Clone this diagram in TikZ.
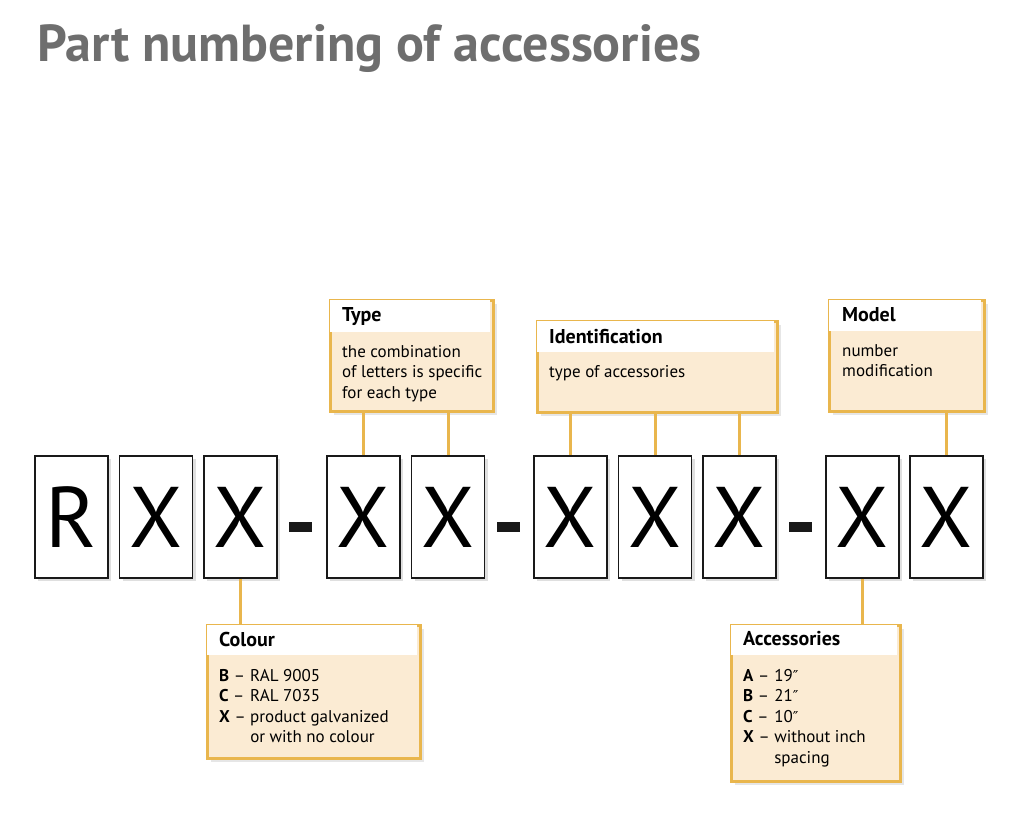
\documentclass[tikz,border=0pt]{standalone}
\usepackage{fontspec}
\setmainfont{PT Sans}
\newfontfamily\inchfont{DejaVu Sans}
\usetikzlibrary{shadows,positioning}
\definecolor{frameorange}{HTML}{E9B64D}
\definecolor{bodybeige}{HTML}{FBEBD3}
\definecolor{titlegray}{HTML}{6E6E6E}
\newcommand{\inch}{{\inchfont\fontsize{15}{21}\selectfont ″}}
\tikzset{
  letterbox/.style={draw=black!90, line width=1.6pt, fill=white, minimum width=73pt, minimum height=122pt, inner sep=0pt,
    font=\fontsize{86}{86}\selectfont, drop shadow={shadow xshift=3pt, shadow yshift=-3pt, opacity=0.25}},
  callbox/.style={draw=frameorange, line width=3pt, fill=bodybeige, inner sep=0pt, anchor=north west,
    drop shadow={shadow xshift=4pt, shadow yshift=-4pt, opacity=0.2}},
  headtext/.style={anchor=base west, inner sep=0pt, font=\fontsize{20}{22}\selectfont\bfseries},
  bodytext/.style={anchor=base west, inner sep=0pt, font=\fontsize{17}{20.5}\selectfont},
  link/.style={draw=frameorange, line width=3pt},
  dashbar/.style={fill=black!90, minimum width=23pt, minimum height=10pt, inner sep=0pt}
}
\begin{document}
\begin{tikzpicture}[x=1pt,y=-1pt]
    \useasboundingbox (0,0) rectangle (1024,822);

    \node[anchor=base west, inner sep=0pt, text=titlegray, font=\fontsize{52}{56}\selectfont\bfseries] (title) at (37,61) {Part numbering of accessories};

    % letter boxes
    \foreach \i/\x/\c in {1/71.5/R, 2/156/X, 3/240.5/X, 4/363.5/X, 5/448/X, 6/570.5/X, 7/655/X, 8/739.5/X, 9/862.5/X, 10/946.5/X}
        \node[letterbox] (l\i) at (\x,517) {\c};
    \node[dashbar] (d1) at (300.5,527) {};
    \node[dashbar] (d2) at (508.5,527) {};
    \node[dashbar] (d3) at (800.5,527) {};

    % Type
    \node[callbox, minimum width=163pt, minimum height=111pt] (type) at (328.5,298.5) {};
    \fill[white] (330,300) rectangle (490,332);
    \node[headtext] (typehead) at (342,321) {Type};
    \node[bodytext] (typebody) at (342,357) {\begin{tabular}[t]{@{}l@{}}the combination\\ of letters is specific\\ for each type\end{tabular}};

    % Identification
    \node[callbox, minimum width=240pt, minimum height=91pt] (ident) at (535.5,319.5) {};
    \fill[white] (537,321) rectangle (774,352);
    \node[headtext] (identhead) at (549,343) {Identification};
    \node[bodytext] (identbody) at (549,377) {type of accessories};

    % Model
    \node[callbox, minimum width=155pt, minimum height=111pt] (model) at (827.5,298.5) {};
    \fill[white] (829,300) rectangle (981,331);
    \node[headtext] (modelhead) at (842,321) {Model};
    \node[bodytext] (modelbody) at (842,356) {\begin{tabular}[t]{@{}l@{}}number\\ modification\end{tabular}};

    % Colour
    \node[callbox, minimum width=213pt, minimum height=133pt] (colour) at (205.5,623.5) {};
    \fill[white] (207,625) rectangle (417,655);
    \node[headtext] (colourhead) at (219,646) {Colour};
    \node[bodytext] (colourbody) at (219,681) {\begin{tabular}[t]{@{}l@{ }l@{}}\textbf{B} –&RAL 9005\\ \textbf{C} –&RAL 7035\\ \textbf{X} –&product galvanized\\ &or with no colour\end{tabular}};

    % Accessories
    \node[callbox, minimum width=169pt, minimum height=156pt] (access) at (729.5,623.5) {};
    \fill[white] (731,625) rectangle (897,655);
    \node[headtext] (accesshead) at (743,645) {Accessories};
    \node[bodytext] (accessbody) at (743,681) {\begin{tabular}[t]{@{}l@{ }l@{}}\textbf{A} –&19\inch\\ \textbf{B} –&21\inch\\ \textbf{C} –&10\inch\\ \textbf{X} –&without inch\\ &spacing\end{tabular}};

    % connectors
    \draw[link] (l4.north) -- (l4.north |- type.south);
    \draw[link] (l5.north) -- (l5.north |- type.south);
    \draw[link] (l6.north) -- (l6.north |- ident.south);
    \draw[link] (l7.north) -- (l7.north |- ident.south);
    \draw[link] (l8.north) -- (l8.north |- ident.south);
    \draw[link] (l10.north) -- (l10.north |- model.south);
    \draw[link] (l3.south) -- (l3.south |- colour.north);
    \draw[link] (l9.south) -- (l9.south |- access.north);

\end{tikzpicture}
\end{document}
